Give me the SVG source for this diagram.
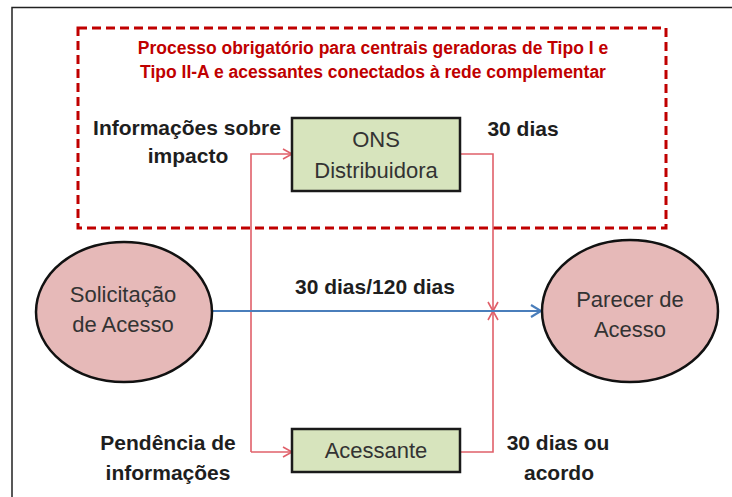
<svg xmlns="http://www.w3.org/2000/svg" width="732" height="497" viewBox="0 0 732 497">
<defs>
<style>
.lbl{font-family:"Liberation Sans",Arial,sans-serif;font-weight:bold;font-size:21px;fill:#1e1e1e;text-anchor:middle}
.ttl{font-family:"Liberation Sans",Arial,sans-serif;font-weight:bold;font-size:17.5px;fill:#c00000;text-anchor:middle}
.nt{font-family:"Liberation Sans",Arial,sans-serif;font-size:22px;fill:#333;text-anchor:middle}
.box{fill:#d7e4bd;stroke:#1a1a1a;stroke-width:2.5}
.circ{fill:#e6b9b8;stroke:#111;stroke-width:2.5}
.red{fill:none;stroke:#e0606a;stroke-width:1.6}
.blue{fill:none;stroke:#4a7ebb;stroke-width:2.2}
</style>
<marker id="ar" markerWidth="12" markerHeight="12" refX="10" refY="6" orient="auto" markerUnits="userSpaceOnUse">
<path d="M1,1 L10,6 L1,11" fill="none" stroke="#e0606a" stroke-width="1.6"/>
</marker>
<marker id="ab" markerWidth="14" markerHeight="14" refX="12" refY="7" orient="auto" markerUnits="userSpaceOnUse">
<path d="M2,1 L12,7 L2,13" fill="none" stroke="#4a7ebb" stroke-width="2.2"/>
</marker>
</defs>
<rect width="732" height="497" fill="#fff"/>
<path d="M12,497 L12,7.5 L732,7.5" fill="none" stroke="#222" stroke-width="1.5"/>
<g id="mandatory-area">
<rect x="78" y="28" width="588" height="200" fill="none" stroke="#c00000" stroke-width="3" stroke-dasharray="9,5"/>
<text class="ttl" x="373" y="54">Processo obrigatório para centrais geradoras de Tipo I e</text>
<text class="ttl" x="373" y="78">Tipo II-A e acessantes conectados à rede complementar</text>
</g>
<g id="connectors">
<path class="red" d="M251,452 L251,154 L292,154" marker-end="url(#ar)"/>
<path class="red" d="M251,452 L292,452" marker-end="url(#ar)"/>
<path class="red" d="M460,154 L493,154 L493,311" marker-end="url(#ar)"/>
<path class="red" d="M460,452 L493,452 L493,311" marker-end="url(#ar)"/>
<path class="blue" d="M212,311 L541,311" marker-end="url(#ab)"/>
</g>
<g id="ons">
<rect class="box" x="292" y="118" width="168" height="73"/>
<text class="nt" x="376" y="147">ONS</text>
<text class="nt" x="376" y="178">Distribuidora</text>
</g>
<g id="acessante">
<rect class="box" x="292" y="429" width="168" height="43"/>
<text class="nt" x="376" y="458">Acessante</text>
</g>
<g id="solicitacao">
<ellipse class="circ" cx="124" cy="312" rx="88" ry="70"/>
<text class="nt" x="123" y="302">Solicitação</text>
<text class="nt" x="123" y="332">de Acesso</text>
</g>
<g id="parecer">
<ellipse class="circ" cx="630" cy="311" rx="88" ry="71"/>
<text class="nt" x="630" y="307">Parecer de</text>
<text class="nt" x="630" y="337">Acesso</text>
</g>
<g id="labels">
<text class="lbl" x="187" y="135">Informações sobre</text>
<text class="lbl" x="188" y="163">impacto</text>
<text class="lbl" x="523" y="136">30 dias</text>
<text class="lbl" x="375" y="294">30 dias/120 dias</text>
<text class="lbl" x="168" y="450">Pendência de</text>
<text class="lbl" x="168" y="480">informações</text>
<text class="lbl" x="558" y="450">30 dias ou</text>
<text class="lbl" x="559" y="480">acordo</text>
</g>
</svg>
